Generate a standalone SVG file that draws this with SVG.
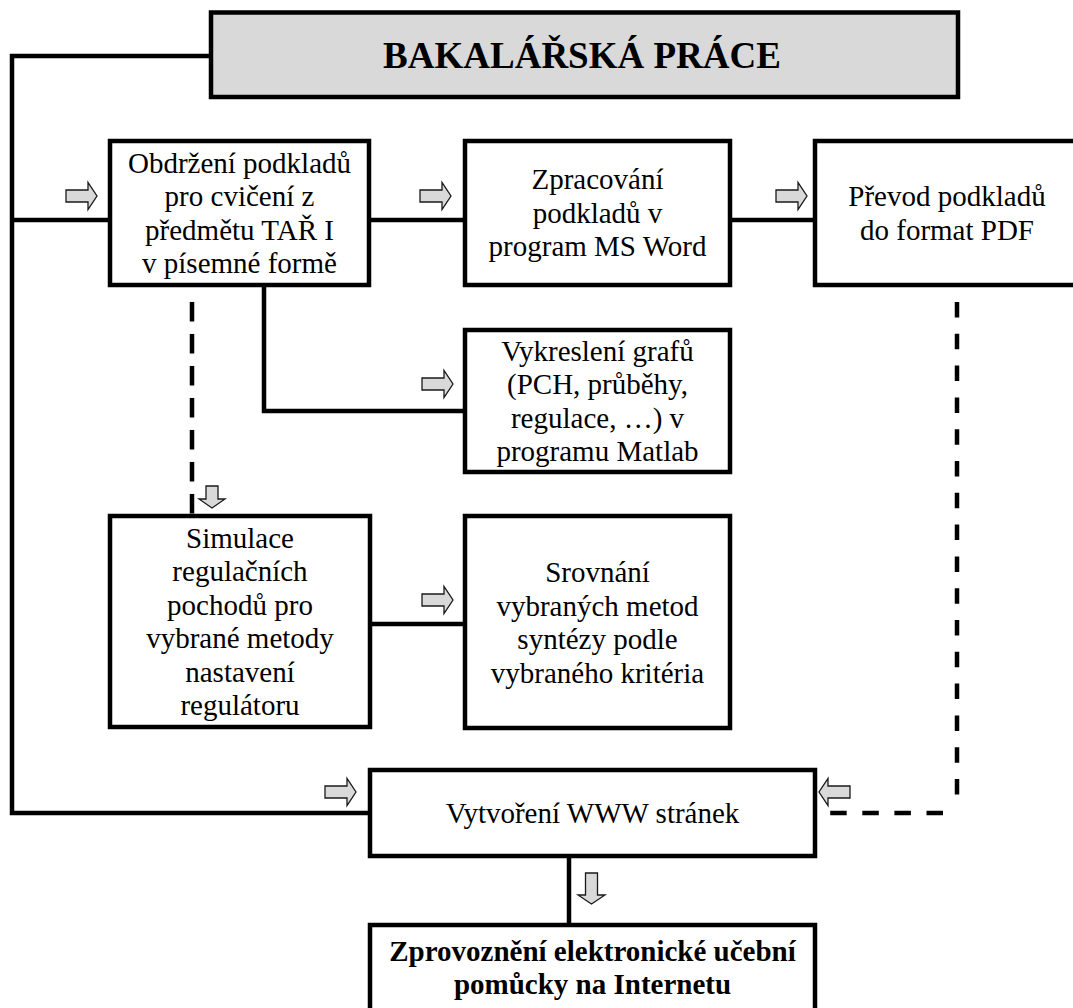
<svg xmlns="http://www.w3.org/2000/svg" xmlns:xlink="http://www.w3.org/1999/xlink" width="1073" height="1008" viewBox="0 0 1073 1008">
<style>
.box{fill:#fff;stroke:#000;stroke-width:4.5}
.title{fill:#d9d9d9;stroke:#000;stroke-width:4.5}
.ln{fill:none;stroke:#000;stroke-width:4.5;stroke-linejoin:miter}
.t{font-family:"Liberation Serif","Times New Roman",serif;font-size:29px;fill:#000;text-anchor:middle}
.b{font-weight:bold}
.arr{fill:#d9d9d9;stroke:#1a1a1a;stroke-width:1.3;stroke-linejoin:miter}
</style>
<defs>
<path id="arrR" d="M0,-6 H22 V-13.5 L31,0 L22,13.5 V6 H0 Z"/>
<path id="arrDs" d="M-6,0 H6 V13 H13 L0,22 L-13,13 H-6 Z"/>
</defs>
<rect width="1073" height="1008" fill="#fff"/>
<g id="connectors">
<path class="ln" d="M210,56 H12 V813 H370"/>
<path class="ln" d="M12,220 H110"/>
<path class="ln" d="M369,220 H465"/>
<path class="ln" d="M730,220 H815"/>
<path class="ln" d="M264,285 V411 H465"/>
<path class="ln" d="M370,624 H465"/>
<path class="ln" d="M569,856 V925"/>
<path class="ln" d="M192,302 V516" stroke-dasharray="19.5 12.5"/>
<path class="ln" d="M957,302 V800" stroke-dasharray="15.5 16.3"/>
<path class="ln" d="M943,813 H829" stroke-dasharray="16.5 15.6"/>
<use href="#arrR" class="arr" x="66" y="196"/>
<use href="#arrR" class="arr" x="420" y="196"/>
<use href="#arrR" class="arr" x="776" y="196"/>
<use href="#arrR" class="arr" x="422" y="384"/>
<use href="#arrR" class="arr" x="422" y="600"/>
<use href="#arrR" class="arr" x="325" y="792"/>
<use href="#arrR" class="arr" transform="translate(850,792) rotate(180)"/>
<use href="#arrR" class="arr" transform="translate(591.5,873) rotate(90)"/>
<use href="#arrDs" class="arr" x="212" y="486"/>
</g>
<g id="n-title">
<rect class="title" x="211" y="12.5" width="747" height="84.5"/>
<text class="t b" x="582" y="68" font-size="37" style="font-size:37px">BAKALÁŘSKÁ PRÁCE</text>
</g>
<g id="n-obdrzeni">
<rect class="box" x="110" y="141" width="259" height="144"/>
<text class="t" x="239.5" y="172.5">Obdržení podkladů</text>
<text class="t" x="239.5" y="206">pro cvičení z</text>
<text class="t" x="239.5" y="239.5">předmětu TAŘ I</text>
<text class="t" x="239.5" y="273">v písemné formě</text>
</g>
<g id="n-zpracovani">
<rect class="box" x="465" y="141" width="265" height="144"/>
<text class="t" x="597.5" y="189.3">Zpracování</text>
<text class="t" x="597.5" y="222.8">podkladů v</text>
<text class="t" x="597.5" y="256.3">program MS Word</text>
</g>
<g id="n-prevod">
<rect class="box" x="815" y="141" width="265" height="144"/>
<text class="t" x="947" y="206">Převod podkladů</text>
<text class="t" x="947" y="239.5">do format PDF</text>
</g>
<g id="n-vykresleni">
<rect class="box" x="465" y="330" width="265" height="142"/>
<text class="t" x="597.5" y="360.5">Vykreslení grafů</text>
<text class="t" x="597.5" y="394">(PCH, průběhy,</text>
<text class="t" x="597.5" y="427.5">regulace, …) v</text>
<text class="t" x="597.5" y="461">programu Matlab</text>
</g>
<g id="n-simulace">
<rect class="box" x="110" y="516" width="260" height="211"/>
<text class="t" x="240" y="547.5">Simulace</text>
<text class="t" x="240" y="581">regulačních</text>
<text class="t" x="240" y="614.5">pochodů pro</text>
<text class="t" x="240" y="648">vybrané metody</text>
<text class="t" x="240" y="681.5">nastavení</text>
<text class="t" x="240" y="715">regulátoru</text>
</g>
<g id="n-srovnani">
<rect class="box" x="465" y="516" width="265" height="212"/>
<text class="t" x="597.5" y="582">Srovnání</text>
<text class="t" x="597.5" y="615.5">vybraných metod</text>
<text class="t" x="597.5" y="649">syntézy podle</text>
<text class="t" x="597.5" y="682.5">vybraného kritéria</text>
</g>
<g id="n-vytvoreni">
<rect class="box" x="370" y="770" width="445" height="86"/>
<text class="t" x="592.5" y="823">Vytvoření WWW stránek</text>
</g>
<g id="n-zprovozneni">
<rect class="box" x="370" y="925" width="445" height="90"/>
<text class="t b" x="592.5" y="961">Zprovoznění elektronické učební</text>
<text class="t b" x="592.5" y="994">pomůcky na Internetu</text>
</g>
</svg>
